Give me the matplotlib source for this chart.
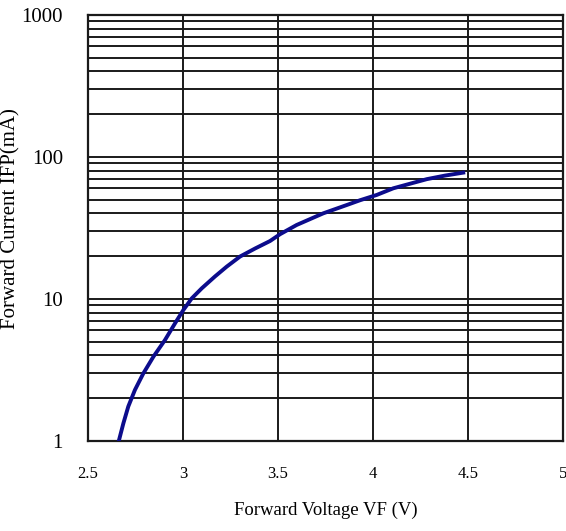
import numpy as np
import matplotlib.pyplot as plt
from matplotlib.ticker import LogLocator, FixedLocator, NullFormatter

# forward voltage (V) vs forward current (mA)
vf = [2.662, 2.686, 2.712, 2.747, 2.791, 2.844, 2.905, 2.958, 3.002, 3.046,
      3.099, 3.168, 3.23, 3.3, 3.38, 3.458, 3.511, 3.598, 3.738, 3.862,
      3.932, 4.019, 4.107, 4.283, 4.38, 4.475]
ifp = [1.0, 1.33, 1.75, 2.29, 2.99, 3.92, 5.14, 6.74, 8.37, 10.1,
       11.9, 14.4, 16.9, 19.9, 22.7, 25.6, 28.6, 33.2, 40.1, 45.9,
       49.6, 54.0, 60.2, 69.8, 74.0, 77.6]

x_ticks = [2.5, 3, 3.5, 4, 4.5, 5]
x_tick_labels = ['2.5', '3', '3.5', '4', '4.5', '5']
y_ticks = [1, 10, 100, 1000]
y_tick_labels = ['1', '10', '100', '1000']

plt.rcParams['font.family'] = ['Liberation Serif', 'DejaVu Serif']

fig = plt.figure(figsize=(5.66, 5.31), dpi=100)
ax = fig.add_axes([0.1555, 0.1695, 0.8392, 0.8023])

ax.plot(vf, ifp, color='#0c0c8c', linewidth=2.8, solid_joinstyle='round', zorder=3)

ax.set_yscale('log')
ax.set_xlim(2.5, 5)
ax.set_ylim(1, 1000)

ax.xaxis.set_major_locator(FixedLocator(x_ticks))
ax.set_xticklabels(x_tick_labels, fontsize=12)
ax.yaxis.set_major_locator(FixedLocator(y_ticks))
ax.set_yticklabels(y_tick_labels, fontsize=15)
ax.yaxis.set_minor_locator(LogLocator(base=10, subs=np.arange(2, 10)))
ax.yaxis.set_minor_formatter(NullFormatter())

ax.tick_params(axis='both', which='both', length=0)
ax.tick_params(axis='x', pad=18)
ax.tick_params(axis='y', pad=18)

ax.grid(True, which='major', color='#1a1a1a', linewidth=1.4)
ax.grid(True, which='minor', axis='y', color='#1a1a1a', linewidth=1.4)
for s in ax.spines.values():
    s.set_color('#1a1a1a')
    s.set_linewidth(1.6)

ax.set_xlabel('Forward Voltage VF (V)', fontsize=13.5, labelpad=14)
ax.set_ylabel('Forward Current IFP(mA)', fontsize=15)
ax.yaxis.set_label_coords(-0.143, 0.521)

plt.savefig('out.png', dpi=100)
